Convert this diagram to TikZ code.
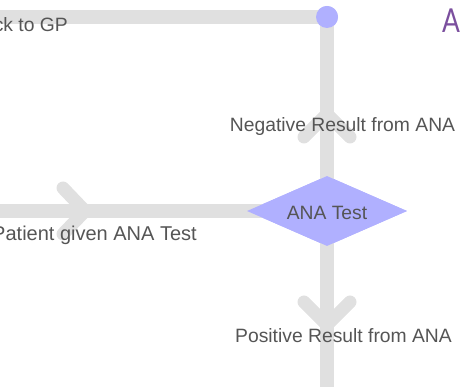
\documentclass[tikz,border=0pt]{standalone}
\usepackage{fontspec}
\setmainfont{Liberation Sans}
\newfontfamily\titlefont{Lato}
\usetikzlibrary{shapes.geometric}
\definecolor{flow}{HTML}{E0E0E0}
\definecolor{nodefill}{HTML}{B0B0FF}
\definecolor{txt}{HTML}{555555}
\definecolor{ttl}{HTML}{7B4F9E}
\tikzset{
  flowline/.style={draw=flow, line width=14pt},
  chev/.style={draw=flow, line width=13pt, line cap=round, line join=round},
  lbl/.style={text=txt, font=\fontsize{19.3}{22}\selectfont, inner sep=0pt, anchor=base},
  mergedot/.style={circle, fill=nodefill, minimum size=22pt, inner sep=0pt},
  decision/.style={diamond, fill=nodefill, minimum width=160pt, minimum height=70pt, inner sep=0pt, aspect=2.3},
}
\begin{document}
\begin{tikzpicture}[x=1pt,y=-1pt]
\useasboundingbox (0,0) rectangle (461,387);
\clip (0,0) rectangle (461,387);
% coordinates
\coordinate (gpend) at (-20,17);
\coordinate (patstart) at (-20,211);
\coordinate (bottom) at (327,400);
\node[mergedot] (merge) at (327,17) {};
\node[decision] (ana) at (327,211) {};
% lines
\draw[flowline] (merge.center) -- (gpend);
\draw[flowline] (merge.center) -- (ana.center);
\draw[flowline] (patstart) -- (ana.center);
\draw[flowline] (ana.center) -- (bottom);
% chevrons
\draw[chev] (63,188) -- (85,211) -- (63,234);
\draw[chev] (304,137) -- (327,114) -- (350,137);
\draw[chev] (304,302) -- (327,325) -- (350,302);
% redraw nodes on top
\node[mergedot] at (merge) {};
\node[decision] at (ana) {};
% labels
\node[lbl] (anat) at (327,220) {ANA Test};
\node[lbl, anchor=base east] (gp) at (68,32) {Back to GP};
\node[lbl, anchor=base east, font=\fontsize{20}{22}\selectfont] (pat) at (197,241) {Patient given ANA Test};
\node[lbl] (neg) at (342.5,132) {Negative Result from ANA};
\node[lbl] (pos) at (343.5,343) {Positive Result from ANA};
\node[text=ttl, font=\titlefont\fontsize{33}{35}\selectfont, anchor=base west, inner sep=0pt, xscale=0.8, transform shape] (title) at (442,33) {A};
\end{tikzpicture}
\end{document}
